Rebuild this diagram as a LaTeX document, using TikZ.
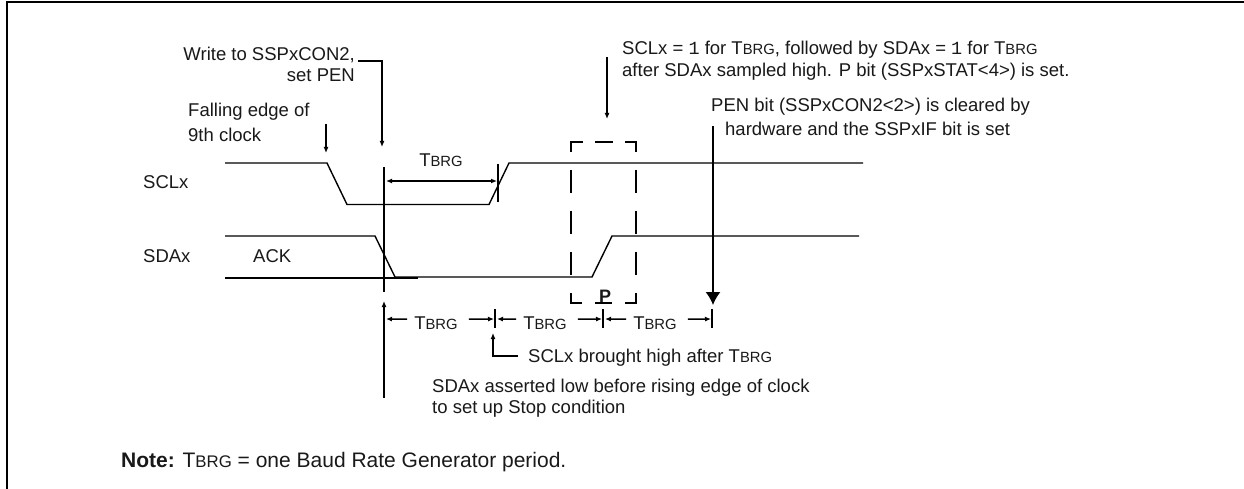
\documentclass[tikz,border=0pt]{standalone}
\usepackage{fontspec}
\setmainfont{Liberation Sans}
\setmonofont{Liberation Mono}
\usetikzlibrary{arrows.meta,positioning}
\newcommand{\tbrg}{T{\fontsize{14.8}{16}\selectfont BRG}}
\tikzset{
  etiqueta/.style={font=\fontsize{18.5}{22}\selectfont,inner sep=0pt,text=black!90},
  marco/.style={draw=black,line width=2pt},
  senal/.style={draw=black,line width=1.4pt},
  guia/.style={draw=black,line width=1.5pt},
  flecha/.style={guia,-{Latex[length=6pt,width=5pt]}},
  doble/.style={guia,{Latex[length=6pt,width=5pt]}-{Latex[length=6pt,width=5pt]}},
  flechaG/.style={guia,-{Latex[length=13pt,width=15pt]}},
}
\begin{document}
\begin{tikzpicture}[x=1pt,y=-1pt]
\useasboundingbox (0,0) rectangle (1244,489);
\fill[white] (0,0) rectangle (1244,489);
% frame
\coordinate (m1) at (7,489);
\coordinate (m2) at (7,2);
\coordinate (m3) at (1244,2);
\draw[marco] (m1) -- (m2) -- (m3);
% signals
\draw[senal] (225,163) -- (327,163) -- (347,204.5) -- (489,204.5) -- (509,163) -- (863,163);
\draw[senal] (225,236) -- (375,236) -- (395,277) -- (592,277) -- (612,236) -- (859,236);
\draw[senal] (225,278) -- (418,278);
% signal names
\node[etiqueta,anchor=base west] (scl) at (143,189) {SCLx};
\node[etiqueta,anchor=base west] (sda) at (143,262) {SDAx};
\node[etiqueta,anchor=base west] (ack) at (253,262) {ACK};
% callouts
\node[etiqueta,anchor=base east] (wr) at (355,61) {Write to SSPxCON2,};
\node[etiqueta,anchor=base east] (pen) at (355,82) {set PEN};
\node[etiqueta,anchor=base west] (fal) at (188,117) {Falling edge of};
\node[etiqueta,anchor=base west] (nin) at (188,142) {9th clock};
\node[etiqueta,anchor=base west] (sc1) at (622,55) {SCLx = {\ttfamily 1} for \tbrg, followed by SDAx = {\ttfamily 1} for \tbrg};
\node[etiqueta,anchor=base west] (sc2) at (622,77) {after SDAx sampled high. P bit (SSPxSTAT<4>) is set.};
\node[etiqueta,anchor=base west] (pb1) at (711,112) {PEN bit (SSPxCON2<2>) is cleared by};
\node[etiqueta,anchor=base west] (pb2) at (725,136) {hardware and the SSPxIF bit is set};
% write arrow
\coordinate (w0) at (358,61);
\coordinate (w1) at (382,61);
\coordinate (w2) at (382,147);
\draw[flecha] (w0) -- (w1) -- (w2);
\coordinate (f0) at (326,124);
\coordinate (f1) at (326,153);
\draw[flecha] (f0) -- (f1);
\coordinate (s0) at (607,57);
\coordinate (s1) at (607,119);
\draw[flecha] (s0) -- (s1);
% marker lines
\coordinate (v0) at (384,167);
\coordinate (v1) at (384,292);
\draw[guia] (v0) -- (v1);
\coordinate (b0) at (498,164);
\coordinate (b1) at (498,202);
\draw[guia] (b0) -- (b1);
% dashed box
\draw[guia] (571,152) -- (571,142) -- (583,142);
\draw[guia] (595,142) -- (613,142);
\draw[guia] (625,142) -- (636,142) -- (636,152);
\foreach \xd in {571,636} {
  \foreach \yd in {170,211,252} {
    \draw[guia] (\xd,\yd) -- (\xd,\yd+23);
  }
}
\draw[guia] (571,293) -- (571,303) -- (582,303);
\draw[guia] (595,303) -- (612,303);
\draw[guia] (625,303) -- (636,303) -- (636,293);
\node[etiqueta,font=\fontsize{18}{20}\selectfont\bfseries,anchor=base] (p) at (605,302) {P};
% TBRG over SCLx
\coordinate (t0) at (386,181);
\coordinate (t1) at (497,181);
\draw[doble] (t0) -- (t1);
\node[etiqueta,anchor=base] (t) at (441,167) {\tbrg};
% PEN arrow
\coordinate (e0) at (713,126);
\coordinate (e1) at (713,305);
\draw[flechaG] (e0) -- (e1);
% bottom ticks
\coordinate (a0) at (384,398);
\coordinate (a1) at (384,301);
\draw[flecha] (a0) -- (a1);
\foreach \xt in {495,603,712} {
  \draw[guia] (\xt,309) -- (\xt,328);
}
% TBRG row
\node[etiqueta,anchor=base] (t2) at (436,329) {\tbrg};
\node[etiqueta,anchor=base] (t3) at (545,329) {\tbrg};
\node[etiqueta,anchor=base] (t4) at (655,329) {\tbrg};
\coordinate (r1) at (386,319);
\coordinate (r2) at (494,319);
\coordinate (r3) at (497,319);
\coordinate (r4) at (602,319);
\coordinate (r5) at (605,319);
\coordinate (r6) at (711,319);
\draw[flecha] (t2.west) ++(-7,-3.5) -- (r1);
\draw[flecha] (t2.east) ++(11,-3.5) -- (r2);
\draw[flecha] (t3.west) ++(-7,-3.5) -- (r3);
\draw[flecha] (t3.east) ++(11,-3.5) -- (r4);
\draw[flecha] (t4.west) ++(-7,-3.5) -- (r5);
\draw[flecha] (t4.east) ++(11,-3.5) -- (r6);
% lower notes
\node[etiqueta,anchor=base west] (br) at (528,362) {SCLx brought high after \tbrg};
\coordinate (u0) at (518,356);
\coordinate (u1) at (493,356);
\coordinate (u2) at (493,333);
\draw[flecha] (u0) -- (u1) -- (u2);
\node[etiqueta,anchor=base west] (as1) at (432,392) {SDAx asserted low before rising edge of clock};
\node[etiqueta,anchor=base west] (as2) at (432,413) {to set up Stop condition};
\node[etiqueta,anchor=base west,font=\fontsize{21}{24}\selectfont] (nt) at (121,467) {\textbf{Note:} T{\fontsize{16.8}{18}\selectfont BRG} = one Baud Rate Generator period.};
\end{tikzpicture}
\end{document}
